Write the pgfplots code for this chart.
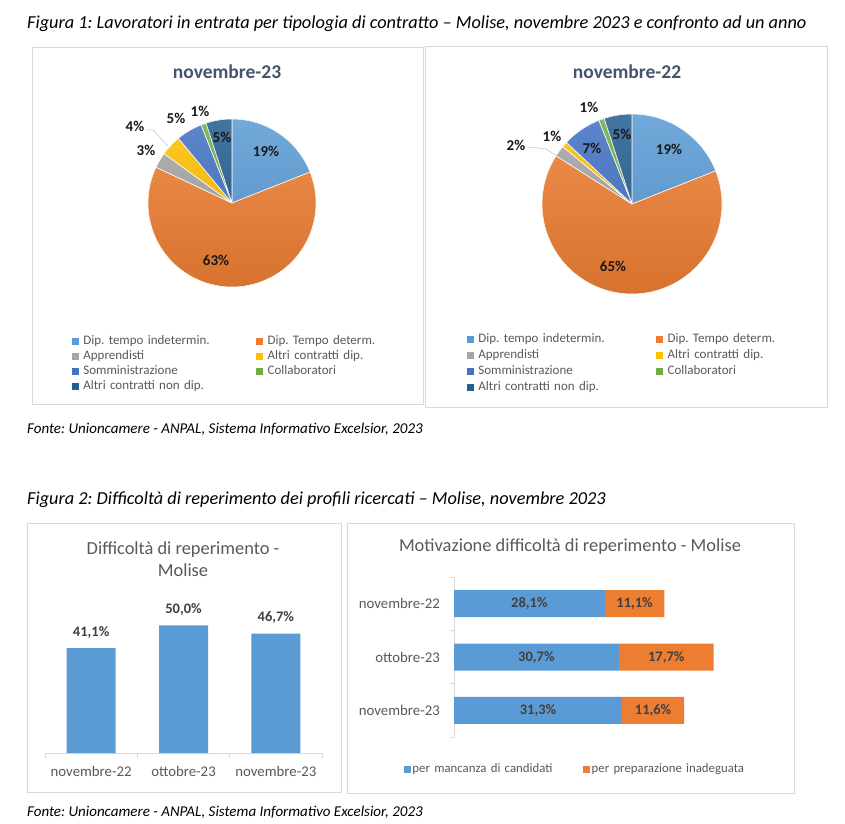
\documentclass[border=0pt]{standalone}
\usepackage{fontspec}
\setmainfont{Carlito}
\usepackage{pgfplots}
\usepackage{pgfplotstable}
\pgfplotsset{compat=1.18}
\frenchspacing

\definecolor{cA}{HTML}{5B9BD5}
\definecolor{cB}{HTML}{ED7D31}
\definecolor{cC}{HTML}{A5A5A5}
\definecolor{cD}{HTML}{FFC000}
\definecolor{cE}{HTML}{4472C4}
\definecolor{cF}{HTML}{70AD47}
\definecolor{cG}{HTML}{255E91}
\definecolor{titleSlate}{HTML}{44546A}
\definecolor{labGray}{HTML}{595959}
\definecolor{valGray}{HTML}{404040}
\definecolor{frameGray}{HTML}{D9D9D9}

% pie shares (percent), slice colour, label offset from centre (pt)
\pgfplotstableread{
pct col lx ly
19 cA 34 52
63 cB -16 -57
3 cC -86 53
4 cD -97 77
5 cE -56 85
1 cF -32 92
5 cG -10 66
}\pieNovTwentyThree

\pgfplotstableread{
pct col lx ly
19 cA 37 55
65 cB -19 -62
2 cC -116 59
1 cD -80 68
7 cE -40 56
1 cF -43 97
5 cG -10 70
}\pieNovTwentyTwo

\pgfplotstableread{
x v
0 41.1
1 50.0
2 46.7
}\diffTab

\pgfplotstableread{
y a b
2 28.1 11.1
1 30.7 17.7
0 31.3 11.6
}\motTab

\newcommand\drawpie[2]{%
  \coordinate (piec) at (axis cs:0,0);
  \gdef\piecum{0}%
  \pgfplotstablegetrowsof{#1}%
  \pgfmathtruncatemacro\pielast{\pgfplotsretval-1}%
  \foreach \k in {0,...,\pielast}{%
    \pgfplotstablegetelem{\k}{pct}\of{#1}\let\pv\pgfplotsretval
    \pgfplotstablegetelem{\k}{col}\of{#1}\let\pc\pgfplotsretval
    \pgfmathsetmacro\pa{90-3.6*\piecum}%
    \pgfmathsetmacro\pb{90-3.6*(\piecum+\pv)}%
    \path[fill=\pc, draw=white, line width=0.6pt, line join=round,
      path picture={\shade[top color=\pc!86!white, bottom color=\pc!90!black]
        ([shift={(-#2pt,-#2pt)}]piec) rectangle ([shift={(#2pt,#2pt)}]piec);}]
      (piec) -- ++(\pa:#2pt) arc[start angle=\pa, end angle=\pb, radius=#2pt] -- cycle;
    \pgfmathsetmacro\tmp{\piecum+\pv}\global\let\piecum\tmp
  }%
  \foreach \k in {0,...,\pielast}{%
    \pgfplotstablegetelem{\k}{pct}\of{#1}\let\pv\pgfplotsretval
    \pgfplotstablegetelem{\k}{lx}\of{#1}\let\plx\pgfplotsretval
    \pgfplotstablegetelem{\k}{ly}\of{#1}\let\ply\pgfplotsretval
    \node[font=\fontsize{15}{17}\selectfont\bfseries, text=black!90, inner sep=0pt]
      at (axis cs:\plx,\ply) {\pv\%};
  }%
}

\pgfplotsset{
  sqlegend/.style n args={3}{
    legend columns=2,
    legend cell align=left,
    legend image code/.code={\fill[##1, draw=none] (0pt,-3.5pt) rectangle (7pt,3.5pt);
      \path (#2,0pt);},
    legend style={draw=none, fill=none, inner sep=0pt, text=labGray,
      font=\fontsize{#3}{15}\selectfont,
      nodes={inner xsep=2pt, inner ysep=0pt, text height=8.5pt, text depth=2.5pt,
        text width=#1, align=left}},
  },
}

\begin{document}
\begin{tikzpicture}[x=1pt,y=1pt]
\path[use as bounding box, fill=white] (0,0) rectangle (845,823);

% captions
\node[anchor=west, inner sep=0pt, font=\fontsize{18.3}{22}\selectfont\itshape] at (27,799)
  {Figura 1: Lavoratori in entrata per tipologia di contratto – Molise, novembre 2023 e confronto ad un anno};
\node[anchor=west, inner sep=0pt, font=\fontsize{15}{18}\selectfont\itshape] at (27,394)
  {Fonte: Unioncamere - ANPAL, Sistema Informativo Excelsior, 2023};
\node[anchor=west, inner sep=0pt, font=\fontsize{18.3}{22}\selectfont\itshape] at (27,323)
  {Figura 2: Difficoltà di reperimento dei profili ricercati – Molise, novembre 2023};
\node[anchor=west, inner sep=0pt, font=\fontsize{15}{18}\selectfont\itshape] at (27,11)
  {Fonte: Unioncamere - ANPAL, Sistema Informativo Excelsior, 2023};

% panel frames
\draw[frameGray, line width=0.8pt] (32,776) rectangle (423,419);
\draw[frameGray, line width=0.8pt] (425,777) rectangle (827,416);
\draw[frameGray, line width=0.8pt] (27,300) rectangle (341,31);
\draw[frameGray, line width=0.8pt] (347,300) rectangle (794,30);

% pie titles
\node[font=\fontsize{19.5}{23}\selectfont\bfseries, text=titleSlate] at (227,751) {novembre-23};
\node[font=\fontsize{19.5}{23}\selectfont\bfseries, text=titleSlate] at (627,751) {novembre-22};

% pie novembre-23
\begin{axis}[at={(232pt,620pt)}, anchor=center, scale only axis,
  width=168pt, height=168pt, xmin=-84, xmax=84, ymin=-84, ymax=84,
  hide axis, clip=false, sqlegend={171pt}{9pt}{13},
  legend style={at={(axis cs:-160,-132.5)}, anchor=north west, row sep=4pt}]
\addlegendimage{fill=cA}\addlegendentry{Dip. tempo indetermin.}
\addlegendimage{fill=cB}\addlegendentry{Dip. Tempo determ.}
\addlegendimage{fill=cC}\addlegendentry{Apprendisti}
\addlegendimage{fill=cD}\addlegendentry{Altri contratti dip.}
\addlegendimage{fill=cE}\addlegendentry{Somministrazione}
\addlegendimage{fill=cF}\addlegendentry{Collaboratori}
\addlegendimage{fill=cG}\addlegendentry{Altri contratti non dip.}
\pgfplotsextra{\drawpie{\pieNovTwentyThree}{84}
  \draw[gray!50, line width=0.5pt] (axis cs:-86,73) -- (axis cs:-79,73) -- (axis cs:-64,57);}
\end{axis}

% pie novembre-22
\begin{axis}[at={(632pt,619pt)}, anchor=center, scale only axis,
  width=180pt, height=180pt, xmin=-90, xmax=90, ymin=-90, ymax=90,
  hide axis, clip=false, sqlegend={176pt}{9pt}{13},
  legend style={at={(axis cs:-165,-130)}, anchor=north west, row sep=5pt}]
\addlegendimage{fill=cA}\addlegendentry{Dip. tempo indetermin.}
\addlegendimage{fill=cB}\addlegendentry{Dip. Tempo determ.}
\addlegendimage{fill=cC}\addlegendentry{Apprendisti}
\addlegendimage{fill=cD}\addlegendentry{Altri contratti dip.}
\addlegendimage{fill=cE}\addlegendentry{Somministrazione}
\addlegendimage{fill=cF}\addlegendentry{Collaboratori}
\addlegendimage{fill=cG}\addlegendentry{Altri contratti non dip.}
\pgfplotsextra{\drawpie{\pieNovTwentyTwo}{90}
  \draw[gray!50, line width=0.5pt] (axis cs:-104,57) -- (axis cs:-86,55) -- (axis cs:-75,48);}
\end{axis}

% bar chart titles
\node[font=\fontsize{18.4}{22}\selectfont, text=labGray, align=center] at (183,264)
  {Difficoltà di reperimento -\\Molise};
\node[font=\fontsize{18.4}{22}\selectfont, text=labGray] at (570,276)
  {Motivazione difficoltà di reperimento - Molise};

% Difficolta di reperimento
\begin{axis}[at={(45pt,70pt)}, anchor=south west, scale only axis,
  width=277pt, height=140.5pt,
  xmin=-0.5, xmax=2.5, ymin=0, ymax=55,
  ybar, bar width=49pt,
  axis y line=none, axis x line*=bottom,
  x axis line style={draw=frameGray, line width=0.8pt},
  xtick={0,1,2}, xticklabels={novembre-22,ottobre-23,novembre-23},
  major tick length=0pt,
  minor xtick={-0.5,0.5,1.5,2.5}, minor tick length=5pt, tick align=outside,
  minor x tick style={draw=frameGray, line width=0.8pt},
  xticklabel style={anchor=base, inner sep=0pt, yshift=-23.5pt,
    font=\fontsize{14.8}{17}\selectfont, text=labGray},
  /pgf/number format/assume math mode=true,
  nodes near coords={\pgfmathprintnumber[fixed, fixed zerofill, precision=1, use comma]{\pgfplotspointmeta}\%},
  every node near coord/.append style={anchor=center, yshift=16pt,
    font=\fontsize{14.5}{17}\selectfont\bfseries, text=valGray},
  clip=false]
\addplot[fill=cA, draw=none] table[x=x, y=v] {\diffTab};
\end{axis}

% Motivazione difficolta di reperimento
\begin{axis}[at={(454pt,86pt)}, anchor=south west, scale only axis,
  width=322pt, height=160pt,
  xmin=0, xmax=60, ymin=-0.5, ymax=2.5,
  xbar stacked, bar width=27pt,
  axis x line=none, axis y line*=left,
  y axis line style={draw=frameGray, line width=0.8pt},
  ytick={0,1,2}, yticklabels={novembre-23,ottobre-23,novembre-22},
  major tick length=0pt,
  minor ytick={-0.5,0.5,1.5,2.5}, minor tick length=4pt, tick align=outside,
  minor y tick style={draw=frameGray, line width=0.8pt},
  yticklabel style={anchor=east, inner sep=0pt, xshift=-14pt,
    font=\fontsize{14.8}{17}\selectfont, text=labGray},
  clip=false]
\addplot[fill=cA, draw=none] table[x=a, y=y] {\motTab};
\addplot[fill=cB, draw=none] table[x=b, y=y] {\motTab};
\end{axis}

% segment labels and legend for the stacked bars
\begin{axis}[at={(454pt,86pt)}, anchor=south west, scale only axis,
  width=322pt, height=160pt,
  xmin=0, xmax=60, ymin=-0.5, ymax=2.5,
  hide axis, clip=false,
  /pgf/number format/assume math mode=true,
  point meta=explicit,
  nodes near coords={\pgfmathprintnumber[fixed, fixed zerofill, precision=1, use comma]{\pgfplotspointmeta}\%},
  every node near coord/.append style={anchor=center,
    font=\fontsize{14.5}{17}\selectfont\bfseries, text=valGray},
  sqlegend={170pt}{7pt}{12.8},
  legend style={at={(axis description cs:-0.155,-0.2)}, anchor=west,
    nodes={inner xsep=1pt}}]
\addplot[draw=none, mark=none, forget plot]
  table[x expr=\thisrow{a}/2, y=y, meta=a] {\motTab};
\addplot[draw=none, mark=none, forget plot]
  table[x expr=\thisrow{a}+\thisrow{b}/2, y=y, meta=b] {\motTab};
\addlegendimage{fill=cA}\addlegendentry{per mancanza di candidati}
\addlegendimage{fill=cB}\addlegendentry{per preparazione inadeguata}
\end{axis}
\end{tikzpicture}
\end{document}
